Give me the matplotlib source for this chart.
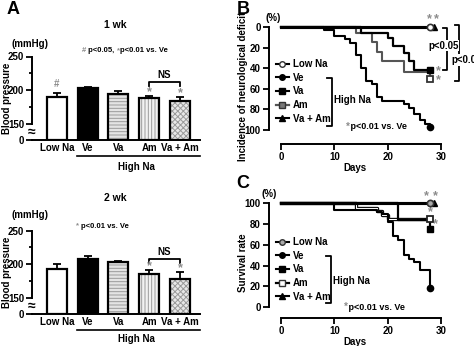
import numpy as np
import matplotlib
matplotlib.use('Agg')
import matplotlib.pyplot as plt
from matplotlib.lines import Line2D
from matplotlib.offsetbox import TextArea, HPacker, AnnotationBbox

plt.rcParams['font.family'] = ['Liberation Sans', 'DejaVu Sans']
plt.rcParams['font.weight'] = 'bold'
plt.rcParams['axes.labelweight'] = 'bold'
plt.rcParams['axes.linewidth'] = 1.4
plt.rcParams['hatch.linewidth'] = 0.7

# ---- data ----
groups = ['Low Na', 'Ve', 'Va', 'Am', 'Va + Am']
bp_1wk = [190.5, 203.5, 194.5, 189, 184]
bp_1wk_err = [5, 1, 4, 2.5, 6]
bp_2wk = [193, 208.5, 203.5, 185.5, 179]
bp_2wk_err = [7, 4.5, 2, 5.5, 9.5]

# neurological deficit (%), step curves
nd_lowna_days = [0, 28]
nd_lowna = [0, 0]
nd_ve_days = [0, 8, 10, 12, 13, 14, 15, 16, 17, 18, 19, 23, 24, 25, 26, 27, 28]
nd_ve = [0, 3, 8, 11, 15, 27, 40, 52, 55, 68, 72, 75, 79, 84, 90, 94, 97]
nd_va_days = [0, 15, 20, 21, 23, 24, 25, 28]
nd_va = [0, 6, 10, 18, 25, 33, 42, 42]
nd_am_days = [0, 14, 17, 18, 19, 23, 28]
nd_am = [0, 6, 14, 24, 33, 44, 50]
nd_vaam_days = [0, 28.6]
nd_vaam = [0, 0]

# survival rate (%)
sv_lowna_days = [0, 28]
sv_lowna = [100, 100]
sv_ve_days = [0, 10, 18, 19, 20, 21, 22, 23, 24, 25, 26, 28]
sv_ve = [100, 93, 91, 89, 82, 68, 64, 50, 46, 43, 36, 18]
sv_va_days = [0, 22, 28]
sv_va = [100, 84, 75]
sv_am_days = [0, 14, 18, 19, 20, 28]
sv_am = [100, 95, 92, 88, 85, 85]
sv_vaam_days = [0, 28.6]
sv_vaam = [100, 100]

W, H = 474, 346
fig = plt.figure(figsize=(W / 100, H / 100), dpi=100)
GRAY = '#8c8c8c'
FS = 7


def ftext(x, y, s, **kw):
    kw.setdefault('ha', 'center')
    kw.setdefault('va', 'center')
    return fig.text(x / W, 1 - y / H, s, **kw)


def fline(xs, ys, lw=1.2):
    fig.add_artist(Line2D([x / W for x in xs], [1 - y / H for y in ys],
                          color='k', lw=lw, transform=fig.transFigure))


def parts_text(x, y, parts, size):
    boxes = [TextArea(s, textprops=dict(color=c, size=size, weight='bold'))
             for s, c in parts]
    pack = HPacker(children=boxes, align='baseline', pad=0, sep=0)
    ab = AnnotationBbox(pack, (x / W, 1 - y / H), xycoords='figure fraction',
                        frameon=False, box_alignment=(0.5, 0.5))
    fig.add_artist(ab)


def bar_panel(rect, vals, errs, base, ns_y, star_off):
    ax = fig.add_axes(rect)
    x = np.arange(len(groups))
    heights = np.array(vals) - base
    fills = ['white', 'black', '#e4e4e4', '#f2f2f2', '#e8e8e8']
    hatches = [None, None, '-----', '|||||', 'xxxxxx']
    for xi, h, fc, ht in zip(x, heights, fills, hatches):
        ax.bar(xi, h, bottom=base, width=0.65, color=fc, hatch=ht,
               edgecolor='#9a9a9a', linewidth=0, zorder=2)
    ax.bar(x, heights, bottom=base, width=0.65, fill=False,
           edgecolor='black', linewidth=1.6, zorder=3)
    ax.errorbar(x, vals, yerr=[np.zeros(len(vals)), errs], fmt='none',
                ecolor='black', elinewidth=1.3, capsize=3, capthick=1.3, zorder=1)
    ax.set_xlim(-0.81, 4.65)
    ax.set_ylim(base, 250)
    ax.set_yticks([base, 150, 200, 250], ['0', '150', '200', '250'])
    ax.set_yticks([175, 225], minor=True)
    ax.spines[['top', 'right']].set_visible(False)
    ax.set_xticks(x, groups)
    ax.tick_params(axis='x', length=0, pad=2, labelsize=FS)
    ax.tick_params(axis='y', which='both', direction='out', length=4,
                   width=1.3, labelsize=FS, pad=1.5)
    ax.tick_params(axis='y', which='minor', length=2.5)
    ax.set_ylabel('Blood pressure', fontsize=FS)
    ax.yaxis.set_label_coords(-0.12, 0.5)
    ax.text(0, (base + 150) / 2, '≈', transform=ax.get_yaxis_transform(),
            ha='center', va='center', fontsize=10,
            bbox=dict(fc='white', ec='none', pad=0))
    # significance marks
    tops = np.array(vals) + np.array(errs)
    for i in (3, 4):
        ax.text(x[i], tops[i] + star_off, '*', color=GRAY, ha='center',
                va='center', fontsize=9)
    ax.plot([x[3], x[3], x[4], x[4]], [ns_y - 5.5, ns_y, ns_y, ns_y - 5.5],
            color='k', lw=1.3, clip_on=False)
    ax.text((x[3] + x[4]) / 2, ns_y + 3, 'NS', ha='center', va='bottom',
            fontsize=FS)
    return ax, tops


# ---- panel A, 1 wk ----
axA1, tops1 = bar_panel([32 / W, 1 - 139.9 / H, 168 / W, 83.4 / H],
                        bp_1wk, bp_1wk_err, 126.5, 211.5, 6)
axA1.text(0, tops1[0] + 14, '#', color=GRAY, ha='center', va='center', fontsize=7)
ftext(13, 10, 'A', fontsize=13)
ftext(115, 25, '1 wk', fontsize=7.5)
ftext(30, 44, '(mmHg)', fontsize=FS)
parts_text(125, 51, [('#', GRAY), (' p<0.05, ', 'k'), ('*', GRAY),
                     ('p<0.01 vs. Ve', 'k')], 5.5)
fline([77, 200], [156, 156])
ftext(136, 167, 'High Na', fontsize=FS)

# ---- panel A, 2 wk ----
axA2, tops2 = bar_panel([32 / W, 1 - 314 / H, 168 / W, 83.4 / H],
                        bp_2wk, bp_2wk_err, 126.5, 208, 6)
ftext(115, 198, '2 wk', fontsize=7.5)
ftext(30, 215, '(mmHg)', fontsize=FS)
parts_text(102, 226.5, [('* ', GRAY), ('p<0.01 vs. Ve', 'k')], 5.5)
fline([77, 200], [330, 330])
ftext(136, 339, 'High Na', fontsize=FS)


def km_axes(rect, ylim, ylabel):
    ax = fig.add_axes(rect)
    ax.set_xlim(-2.34, 30)
    ax.set_ylim(*ylim)
    ax.spines[['top', 'right']].set_visible(False)
    ax.spines['left'].set_bounds(0, 100)
    ax.spines['bottom'].set_bounds(0, 30)
    ax.set_xticks([0, 10, 20, 30])
    ax.set_yticks([0, 20, 40, 60, 80, 100])
    ax.tick_params(direction='out', length=4, width=1.3, labelsize=FS, pad=1.5)
    ax.set_xlabel('Days', fontsize=FS, labelpad=1)
    ax.set_ylabel(ylabel, fontsize=FS)
    return ax


def bracket(ax, x, y0, y1, dx):
    ax.plot([x - dx, x, x, x - dx], [y0, y0, y1, y1], color='k', lw=1.3,
            clip_on=False)


def km_legend(ax, anchor, am_style):
    handles = [
        Line2D([], [], color='k', lw=1.5, marker='o', mfc=am_style['lowna_fc'],
               mec='#333333', ms=4),
        Line2D([], [], color='k', lw=1.5, marker='o', mfc='k', mec='k', ms=4),
        Line2D([], [], color='k', lw=1.5, marker='s', mfc='k', mec='k', ms=4),
        Line2D([], [], color=am_style['line'], lw=1.6, marker='s',
               mfc=am_style['fc'], mec='#333333', ms=4),
        Line2D([], [], color='k', lw=1.5, marker='^', mfc='k', mec='k', ms=4),
    ]
    ax.legend(handles, ['Low Na', 'Ve', 'Va', 'Am', 'Va + Am'], loc='upper left',
              bbox_to_anchor=(anchor[0] / W, 1 - anchor[1] / H),
              bbox_transform=fig.transFigure, frameon=False, fontsize=FS,
              handlelength=1.3, handletextpad=0.4, labelspacing=0.38,
              borderpad=0, borderaxespad=0)


# ---- panel B ----
axB = km_axes([268.5 / W, 1 - 143.9 / H, 172.5 / W, 119.7 / H], (113.5, -3),
              'Incidence of neurological deficit')
axB.yaxis.set_label_coords(-0.12, 0.48)
axB.step(nd_am_days, nd_am, where='post', color='#555555', lw=1.5, zorder=3)
axB.step(nd_va_days, nd_va, where='post', color='k', lw=1.6, zorder=4)
axB.step(nd_ve_days, nd_ve, where='post', color='k', lw=1.5, zorder=4)
axB.plot(nd_lowna_days, nd_lowna, color='k', lw=2.2, zorder=5)
axB.plot(nd_vaam_days, nd_vaam, color='k', lw=2.2, zorder=5)
axB.plot(nd_am_days[-1], nd_am[-1], 's', mfc='white', mec='#333333', mew=1.3, ms=4.5, zorder=6)
axB.plot(nd_va_days[-1], nd_va[-1], 's', color='k', ms=4.5, zorder=6)
axB.plot(nd_ve_days[-1], nd_ve[-1], 'o', color='k', ms=4.5, zorder=6)
axB.plot(nd_lowna_days[-1], nd_lowna[-1], 'o', mfc='white', mec='#333333', mew=1.2, ms=4.5, zorder=7, clip_on=False)
axB.plot(nd_vaam_days[-1], nd_vaam[-1], '^', color='k', ms=4.5, zorder=6, clip_on=False)
for sx, sy in [(27.9, -8), (29.2, -8), (29.5, nd_va[-1] + 1), (29.5, nd_am[-1] + 1)]:
    axB.text(sx, sy, '*', color=GRAY, ha='center', va='center', fontsize=9,
             clip_on=False)
bracket(axB, 31.1, 0.7, 41.6, 0.8)
bracket(axB, 33.4, -2, 52, 0.8)
axB.text(30.4, 18, 'p<0.05', ha='center', va='center', fontsize=FS,
         bbox=dict(fc='white', ec='none', pad=0.5), clip_on=False)
axB.text(31.9, 32, 'p<0.01', ha='left', va='center', fontsize=FS,
         bbox=dict(fc='white', ec='none', pad=0.5), clip_on=False)
km_legend(axB, (276, 59), dict(lowna_fc='white', line='#555555', fc='#777777'))
bracket(axB, 9.56, 49.4, 96, 0.9)
axB.text(9.9, 71, 'High Na', ha='left', va='center', fontsize=FS)
axB.text(12.6, 97, ' p<0.01 vs. Ve', ha='left', va='center', fontsize=6.5)
axB.text(12.6, 97, '*', color=GRAY, ha='center', va='center', fontsize=7)
ftext(243, 10, 'B', fontsize=13)
ftext(273, 18, '(%)', fontsize=FS)

# ---- panel C ----
axC = km_axes([268.5 / W, 1 - 318 / H, 172.5 / W, 118.2 / H], (-10.3, 103),
              'Survival rate')
axC.yaxis.set_label_coords(-0.12, 0.47)
axC.step(sv_am_days, sv_am, where='post', color='k', lw=2.4, zorder=3)
axC.step(sv_am_days, sv_am, where='post', color='white', lw=0.8, zorder=3.1)
axC.step(sv_va_days, sv_va, where='post', color='k', lw=1.6, zorder=4)
axC.step(sv_ve_days, sv_ve, where='post', color='k', lw=1.5, zorder=4)
axC.plot(sv_lowna_days, sv_lowna, color='k', lw=2.2, zorder=5)
axC.plot(sv_vaam_days, sv_vaam, color='k', lw=2.2, zorder=5)
axC.plot(sv_am_days[-1], sv_am[-1], 's', mfc='white', mec='#222222', mew=1.3, ms=4.5, zorder=6)
axC.plot(sv_va_days[-1], sv_va[-1], 's', color='k', ms=4.5, zorder=6)
axC.plot(sv_ve_days[-1], sv_ve[-1], 'o', color='k', ms=4.5, zorder=6)
axC.plot(sv_lowna_days[-1], sv_lowna[-1], 'o', mfc='#aaaaaa', mec='#333333', mew=1.2, ms=4.5, zorder=7, clip_on=False)
axC.plot(sv_vaam_days[-1], sv_vaam[-1], '^', color='k', ms=4.5, zorder=6, clip_on=False)
for sx, sy in [(27.2, 106), (28.9, 106), (28.1, sv_am[-1] + 6), (28.9, sv_va[-1] + 5)]:
    axC.text(sx, sy, '*', color=GRAY, ha='center', va='center', fontsize=9,
             clip_on=False)
km_legend(axC, (276, 237), dict(lowna_fc='#aaaaaa', line='k', fc='white'))
bracket(axC, 9.3, 4, 49, 0.9)
axC.text(9.8, 25, 'High Na', ha='left', va='center', fontsize=FS)
axC.text(12.2, 0, ' p<0.01 vs. Ve', ha='left', va='center', fontsize=6.5)
axC.text(12.2, 0, '*', color=GRAY, ha='center', va='center', fontsize=7)
ftext(243, 183, 'C', fontsize=13)
ftext(269, 194, '(%)', fontsize=FS)

fig.savefig('out.png', dpi=100)
